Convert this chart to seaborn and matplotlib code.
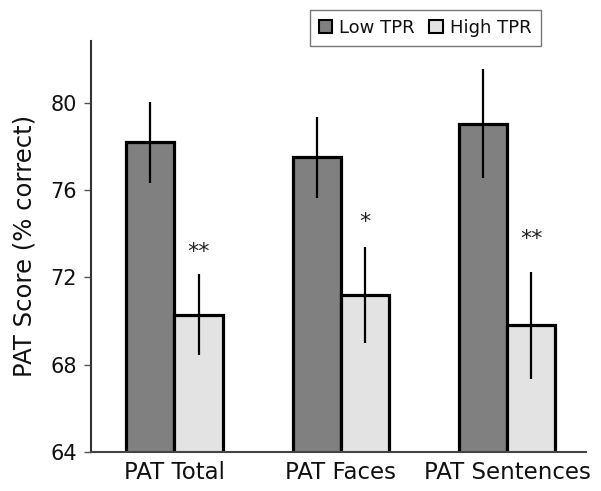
import matplotlib
matplotlib.use("Agg")
import matplotlib.pyplot as plt
import pandas as pd
import seaborn as sns

# Data
measures = ["PAT Total", "PAT Faces", "PAT Sentences"]
groups = ["Low TPR", "High TPR"]
low_scores = [78.2, 77.5, 79.05]
high_scores = [70.3, 71.2, 69.8]
low_err = [1.85, 1.85, 2.5]
high_err = [1.87, 2.2, 2.47]
stars = ["**", "*", "**"]
star_y = [73.15, 74.55, 73.75]

# Long-format table for seaborn
df = pd.DataFrame({
    "measure": measures * 2,
    "group": [groups[0]] * 3 + [groups[1]] * 3,
    "score": low_scores + high_scores,
})

sns.set_style("white")
plt.rcParams["font.family"] = ["DejaVu Sans"]

fig = plt.figure(figsize=(6.01, 4.91), dpi=100)
ax = fig.add_axes([0.151, 0.0794, 0.8235, 0.8377])

sns.barplot(data=df, x="measure", y="score", hue="group", order=measures, hue_order=groups,
            palette=["#808080", "#e3e3e3"], edgecolor="black", linewidth=2.3,
            width=0.577, errorbar=None, ax=ax)

# Error bars and significance stars at the bar centres
for container, errs in zip(ax.containers, [low_err, high_err]):
    xs = [b.get_x() + b.get_width() / 2 for b in container]
    ys = [b.get_height() for b in container]
    ax.errorbar(xs, ys, yerr=errs, fmt="none", ecolor="black", elinewidth=1.6, capsize=0)
high_x = [b.get_x() + b.get_width() / 2 for b in ax.containers[1]]
for x, y, s in zip(high_x, star_y, stars):
    ax.text(x, y, s, ha="center", va="center", fontsize=16, color="#222222")

ax.set_ylim(64, 82.85)
ax.set_xlim(-0.503, 2.47)
ax.set_yticks([64, 68, 72, 76, 80])
ax.tick_params(axis="y", labelsize=15, labelcolor="#111111", left=True, length=5, width=1,
               color="#555555", pad=5)
ax.tick_params(axis="x", labelsize=16.5, labelcolor="#111111", bottom=False, pad=3)
ax.set_xlabel("")
ax.set_ylabel("PAT Score (% correct)", fontsize=17.5, labelpad=10, color="#111111")
sns.despine(ax=ax)
ax.spines["left"].set_color("#333333")
ax.spines["left"].set_linewidth(1.5)
ax.spines["bottom"].set_color("#444444")
ax.spines["bottom"].set_linewidth(1.5)

# Legend sits above the plot area
ax.legend_.remove()
handles = [plt.Rectangle((0, 0), 1, 1, facecolor=c, edgecolor="black", linewidth=1.5)
           for c in ["#808080", "#e3e3e3"]]
fig.legend(handles, groups, loc="upper right", bbox_to_anchor=(0.9, 0.98), ncol=2,
           fontsize=13, frameon=True, fancybox=False, edgecolor="#555555",
           handlelength=0.75, handleheight=0.75, columnspacing=0.8, handletextpad=0.4,
           borderpad=0.5, borderaxespad=0, labelcolor="#111111")

fig.savefig("out.png", dpi=100)
